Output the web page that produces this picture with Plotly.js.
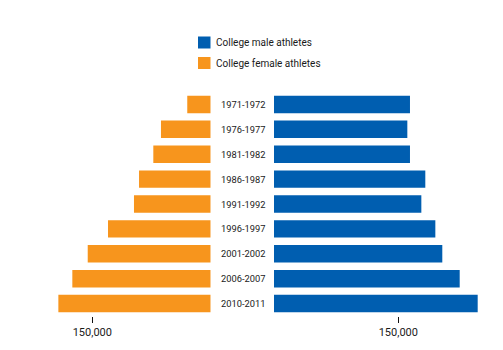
<!DOCTYPE html>
<html><head><meta charset="utf-8">
<script src="https://cdn.plot.ly/plotly-3.0.1.min.js"></script>
<style>html,body{margin:0;padding:0;background:#fff}#chart{width:503px;height:350px}</style>
</head><body><div id="chart"></div>
<script>
const categories = ["1971-1972","1976-1977","1981-1982","1986-1987","1991-1992","1996-1997","2001-2002","2006-2007","2010-2011"];
const femaleAthletes = [29700, 63000, 72700, 90800, 97200, 130100, 155800, 175300, 193000];
const maleAthletes = [164100, 160900, 164100, 182600, 177800, 194700, 203100, 224100, 245800];
const seriesNames = ["College male athletes", "College female athletes"];
const seriesColors = ["#005EB0", "#F7951D"];
const tickValues = [150000];
const tickLabels = ["150,000"];

const W = 503, H = 350, T = 92, B = 34;
const plotH = H - T - B;
const py = p => (H - B - p) / plotH; // pixel y -> paper y
const px = p => p / W;

const traces = [
  {type:'bar', orientation:'h', name:seriesNames[1], x:femaleAthletes, y:categories,
   xaxis:'x', yaxis:'y', marker:{color:seriesColors[1]}, hoverinfo:'x+y', showlegend:false},
  {type:'bar', orientation:'h', name:seriesNames[0], x:maleAthletes, y:categories,
   xaxis:'x2', yaxis:'y', marker:{color:seriesColors[0]}, hoverinfo:'x+y', showlegend:false}
];

const axisCommon = {showgrid:false, zeroline:false, showline:false, ticks:'outside', ticklen:6,
  tickcolor:'#111111', tickwidth:1.2, tickmode:'array', tickvals:tickValues, ticktext:tickLabels,
  tickfont:{family:'Roboto, sans-serif', size:11, color:'#1a1a1a'}, fixedrange:true};

const annotations = categories.map(c => ({xref:'paper', yref:'y', x:px(243), y:c, text:c,
  showarrow:false, xanchor:'center', yanchor:'middle',
  font:{family:'Roboto, sans-serif', size:9.3, color:'#1a1a1a'}}));

annotations.push({xref:'paper', yref:'paper', x:px(213.5), y:py(42.8), text:seriesNames[0], showarrow:false,
  xanchor:'left', yanchor:'middle', font:{family:'Roboto, sans-serif', size:10, color:'#1a1a1a'}});
annotations.push({xref:'paper', yref:'paper', x:px(213.5), y:py(63.3), text:seriesNames[1], showarrow:false,
  xanchor:'left', yanchor:'middle', font:{family:'Roboto, sans-serif', size:10, color:'#1a1a1a'}});

const shapes = [
  {type:'rect', xref:'paper', yref:'paper', x0:px(198), x1:px(210.5), y0:py(48.5), y1:py(36.5),
   fillcolor:seriesColors[0], line:{width:0}},
  {type:'rect', xref:'paper', yref:'paper', x0:px(198), x1:px(210.5), y0:py(69), y1:py(57),
   fillcolor:seriesColors[1], line:{width:0}}
];

const layout = {
  width:W, height:H, margin:{l:0, r:0, t:T, b:B, pad:0},
  paper_bgcolor:'#fff', plot_bgcolor:'#fff',
  bargap:0.3, showlegend:false,
  xaxis: Object.assign({}, axisCommon, {domain:[0, px(210.7)], range:[210.7/(118.4/150000), 0], anchor:'y'}),
  xaxis2: Object.assign({}, axisCommon, {domain:[px(274), 1], range:[0, (W-274)/(124.3/150000)], anchor:'y'}),
  yaxis: {type:'category', categoryorder:'array', categoryarray:categories, autorange:'reversed',
    showticklabels:false, showgrid:false, zeroline:false, showline:false, ticks:'', fixedrange:true},
  annotations: annotations,
  shapes: shapes
};

Plotly.newPlot('chart', traces, layout, {displayModeBar:false, staticPlot:true});
</script></body></html>
